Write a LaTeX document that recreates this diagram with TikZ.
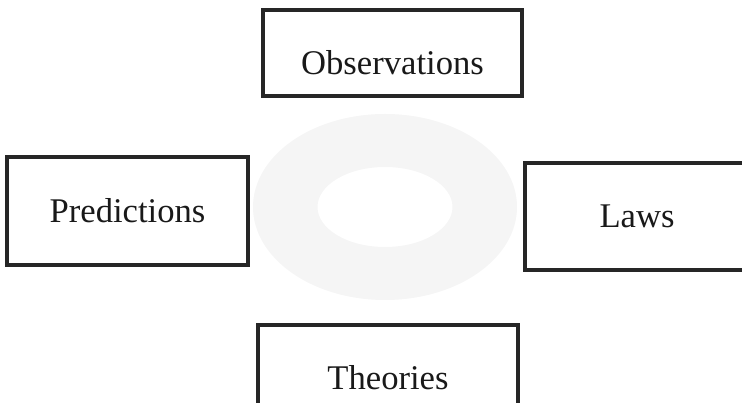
\documentclass[tikz,border=0pt]{standalone}
\usepackage{fontspec}
\setmainfont{Liberation Serif}
\usepackage{tikz}

\begin{document}
\begin{tikzpicture}[box/.style={draw=black!85, line width=2pt, rectangle, inner sep=0pt, text=black!90, font=\fontsize{19.7pt}{24pt}\selectfont}]

\useasboundingbox (0, 0) rectangle (14.84, 8.06);

\fill[black!4, even odd rule] (7.7, 3.92) ellipse (2.64 and 1.86) (7.7, 3.92) ellipse (1.35 and 0.8);

\node[box, minimum width=5.18cm, minimum height=1.72cm, text height=25pt, text depth=0pt] (obs) at (7.85, 7.0) {Observations};
\node[box, minimum width=4.82cm, minimum height=2.16cm] (pred) at (2.55, 3.84) {Predictions};
\node[box, minimum width=4.48cm, minimum height=2.14cm] (laws) at (12.74, 3.73) {Laws};
\node[box, minimum width=5.2cm, minimum height=2.12cm] (theo) at (7.76, 0.5) {Theories};

\end{tikzpicture}
\end{document}
